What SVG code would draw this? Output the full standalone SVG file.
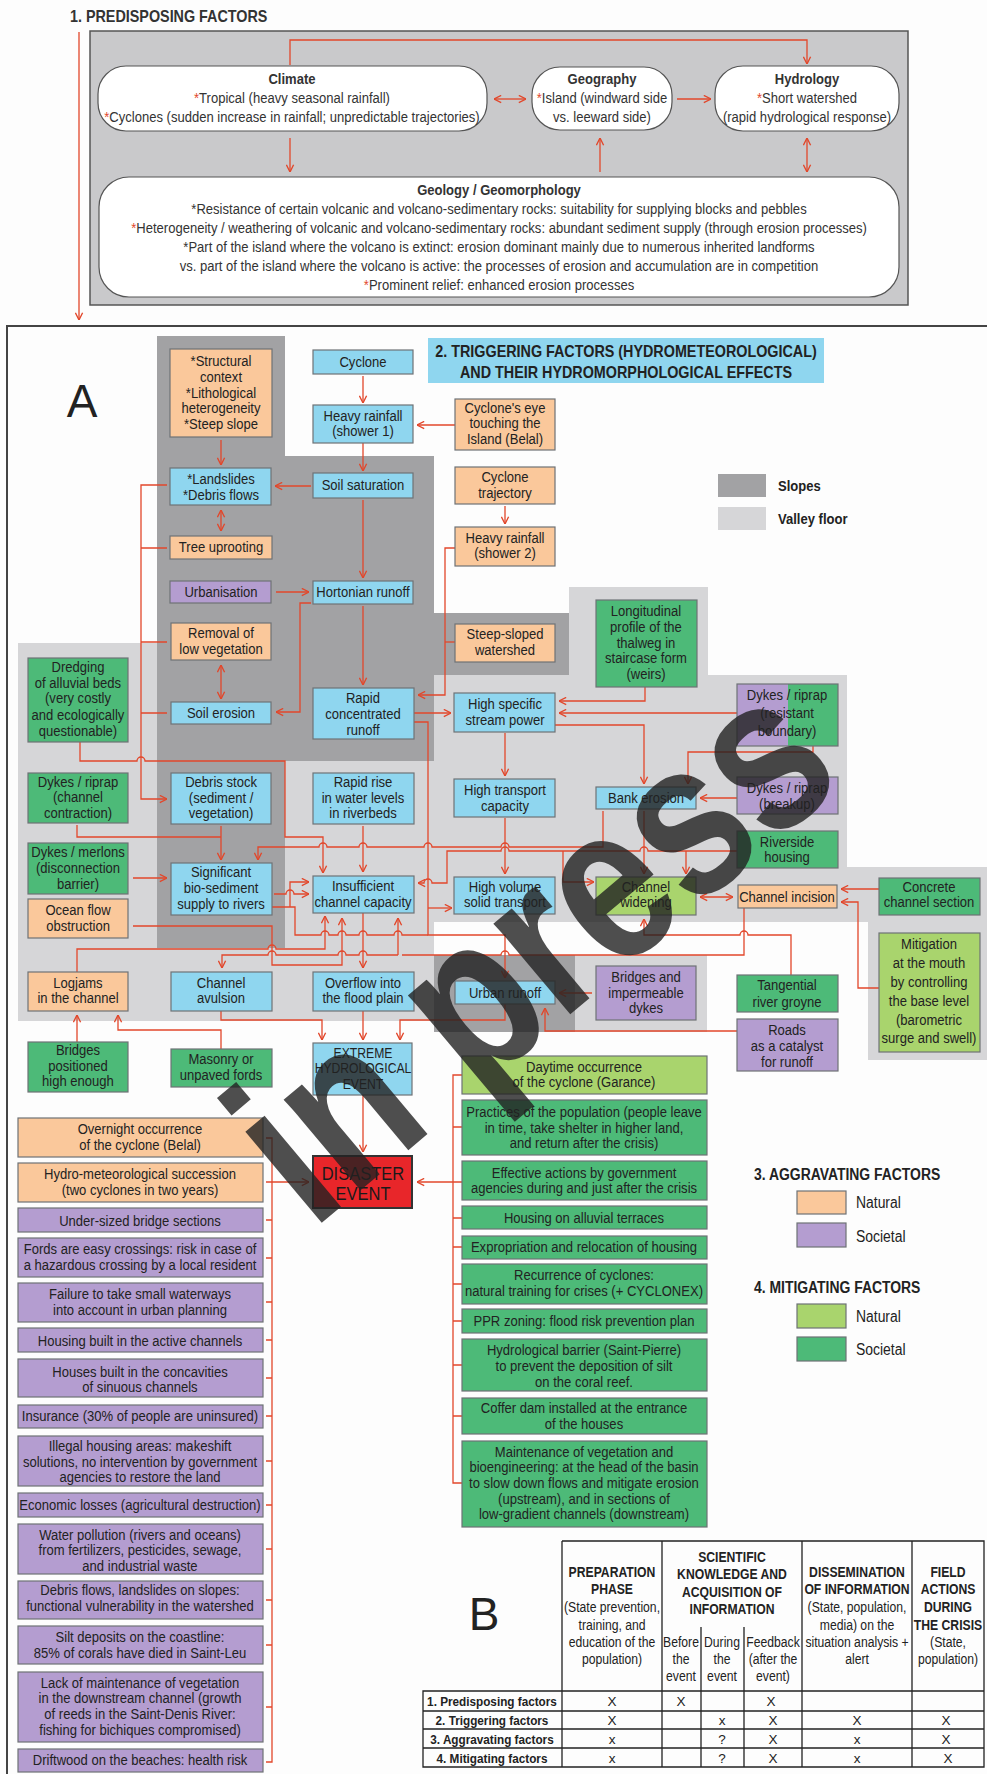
<svg xmlns="http://www.w3.org/2000/svg" width="987" height="1774" viewBox="0 0 987 1774">
<defs>
<style>
.t{font-family:"Liberation Sans Narrow","Arial Narrow","Liberation Sans",Arial,sans-serif;font-size:15px;fill:#222;text-anchor:middle;transform-box:fill-box;transform-origin:50% 50%;transform:scaleX(0.87)}
.s1{fill:#333}
.b{font-weight:bold}
.l{text-anchor:start;transform-origin:0% 50%}
.ns{transform:none}
.ast{fill:#e2472b}
.box{stroke:#6e7276;stroke-width:1.2}
.blue{fill:#8fd6ef}
.org{fill:#fac89b}
.pur{fill:#b49dd0}
.grn{fill:#4dba78}
.lgr{fill:#a9d46d}
.red{fill:#e8262a;stroke:#333;stroke-width:2}
.pill{fill:#fff;stroke:#555;stroke-width:1.2}
.c{fill:none;stroke:#e2472b;stroke-width:1.3}
.a{marker-end:url(#ah)}
.d{marker-start:url(#ah);marker-end:url(#ah)}
.slope{fill:#a2a2a4}
.valley{fill:#d6d6d8}
.tl{stroke:#222;stroke-width:1.3;fill:none}
.tt{font-size:14px}
.tr{font-size:13.5px}
</style>
<marker id="ah" viewBox="0 0 10 10" refX="9.5" refY="5" markerWidth="9" markerHeight="9" markerUnits="userSpaceOnUse" orient="auto-start-reverse"><path d="M1.5,1 L9.5,5 L1.5,9" fill="none" stroke="#e2472b" stroke-width="1.5"/></marker>
</defs>
<rect width="987" height="1774" fill="#fdfdfd"/>

<!-- SECTION 1 -->
<g id="section1">
<text class="t b l s1" x="70" y="22" style="font-size:16.5px">1. PREDISPOSING FACTORS</text>
<rect x="90" y="31" width="818" height="274" fill="#c9c9cb" stroke="#555" stroke-width="1.5"/>
</g>
<g id="n-climate">
<rect class="pill" x="98" y="66" width="389" height="65" rx="28"/>
<text class="t s1"><tspan class="b" x="292" y="84">Climate</tspan><tspan x="292" y="103"><tspan class="ast">*</tspan>Tropical (heavy seasonal rainfall)</tspan><tspan x="292" y="122"><tspan class="ast">*</tspan>Cyclones (sudden increase in rainfall; unpredictable trajectories)</tspan></text>
</g>
<g id="n-geography">
<rect class="pill" x="532" y="67" width="140" height="63" rx="28"/>
<text class="t s1"><tspan class="b" x="602" y="84">Geography</tspan><tspan x="602" y="103"><tspan class="ast">*</tspan>Island (windward side</tspan><tspan x="602" y="122">vs. leeward side)</tspan></text>
</g>
<g id="n-hydrology">
<rect class="pill" x="715" y="66" width="184" height="65" rx="28"/>
<text class="t s1"><tspan class="b" x="807" y="84">Hydrology</tspan><tspan x="807" y="103"><tspan class="ast">*</tspan>Short watershed</tspan><tspan x="807" y="122">(rapid hydrological response)</tspan></text>
</g>
<g id="n-geology">
<rect class="pill" x="99" y="177" width="800" height="120" rx="30"/>
<text class="t s1"><tspan class="b" x="499" y="195">Geology / Geomorphology</tspan><tspan x="499" y="214">*Resistance of certain volcanic and volcano-sedimentary rocks: suitability for supplying blocks and pebbles</tspan><tspan x="499" y="233"><tspan class="ast">*</tspan>Heterogeneity / weathering of volcanic and volcano-sedimentary rocks: abundant sediment supply (through erosion processes)</tspan><tspan x="499" y="252">*Part of the island where the volcano is extinct: erosion dominant mainly due to numerous inherited landforms</tspan><tspan x="499" y="271">vs. part of the island where the volcano is active: the processes of erosion and accumulation are in competition</tspan><tspan x="499" y="290"><tspan class="ast">*</tspan>Prominent relief: enhanced erosion processes</tspan></text>
</g>
<g id="connectors-1">
<path class="c a" d="M290,65 V40 H807 V64"/>
<path class="c d" d="M494,99 H526"/>
<path class="c a" d="M677,99 H711"/>
<path class="c a" d="M290,138 V172"/>
<path class="c a" d="M600,172 V138"/>
<path class="c d" d="M807,138 V172"/>
<path class="c a" d="M79,32 V320"/>
</g>

<!-- SECTION A frame and zones -->
<g id="frameA">
<rect x="7" y="326" width="1000" height="1470" fill="none" stroke="#444" stroke-width="2"/>
</g>
<g id="zones">
<rect class="valley" x="18" y="643" width="139" height="378"/>
<rect class="valley" x="157" y="761" width="277" height="260"/>
<rect class="valley" x="434" y="675" width="413" height="247"/>
<rect class="valley" x="569" y="587" width="139" height="88"/>
<polygon class="valley" points="847,867 987,867 987,1060 868,1060 868,922 847,922"/>
<rect class="valley" x="575" y="955" width="132" height="77"/>
<rect class="slope" x="157" y="336" width="128" height="120"/>
<rect class="slope" x="157" y="456" width="277" height="305"/>
<rect class="slope" x="434" y="613" width="135" height="62"/>
<rect class="slope" x="157" y="761" width="128" height="187"/>
<rect class="slope" x="434" y="955" width="141" height="77"/>
</g>
<g id="labelA"><text x="82" y="417" style="font-family:'Liberation Sans',Arial,sans-serif;font-size:46px;fill:#222;text-anchor:middle">A</text></g>
<g id="title2">
<rect x="428" y="338" width="396" height="45" fill="#8fd6ef"/>
<text class="t b" style="font-size:16.5px"><tspan x="626" y="357">2. TRIGGERING FACTORS (HYDROMETEOROLOGICAL)</tspan><tspan x="626" y="378">AND THEIR HYDROMORPHOLOGICAL EFFECTS</tspan></text>
</g>
<g id="legend-zones">
<rect class="slope" x="718" y="474" width="48" height="23"/>
<text class="t b l" x="778" y="491">Slopes</text>
<rect class="valley" x="718" y="507" width="48" height="23"/>
<text class="t b l" x="778" y="524">Valley floor</text>
</g>

<!-- CONNECTORS SECTION A -->
<g id="connectors">
<path class="c a" d="M363,376 V403"/>
<path class="c a" d="M455,425 H417"/>
<path class="c a" d="M363,443 V471"/>
<path class="c a" d="M311,486 H275"/>
<path class="c a" d="M221,440 V465"/>
<path class="c d" d="M221,510 V531"/>
<path class="c a" d="M276,592 H309"/>
<path class="c a" d="M363,500 V578"/>
<path class="c a" d="M311,603 H300 V712 H276"/>
<path class="c d" d="M221,665 V699"/>
<path class="c a" d="M363,606 V685"/>
<path class="c a" d="M167,485 H141 V799 H167"/>
<path class="c" d="M167,548 H141 M167,642 H141 M167,713 H141"/>
<path class="c a" d="M505,506 V524"/>
<path class="c a" d="M455,548 H445 V695 H418"/>
<path class="c" d="M455,642 H445"/>
<path class="c a" d="M414,713 H451"/>
<path class="c a" d="M645,687 V701 H559"/>
<path class="c a" d="M737,713 H559"/>
<path class="c a" d="M555,725 H644 V784"/>
<path class="c a" d="M505,733 V776"/>
<path class="c a" d="M813,746 V752 H688 V784"/>
<path class="c a" d="M737,798 H700"/>
<path class="c a" d="M505,818 V874"/>
<path class="c a" d="M644,811 V874"/>
<path class="c a" d="M737,851 H648 a4,4 0 0 0 -8,0 H509 a4,4 0 0 0 -8,0 H447 V883 H432 a4,4 0 0 0 -8,0 H418"/>
<path class="c a" d="M686,851 V874"/>
<path class="c a" d="M603,811 V847 H509 a4,4 0 0 0 -8,0 H432 a4,4 0 0 0 -8,0 H367 a4,4 0 0 0 -8,0 H327 a4,4 0 0 0 -8,0 H258 V860"/>
<path class="c a" d="M563,851 V882 H594"/>
<path class="c d" d="M700,897 H733"/>
<path class="c a" d="M879,889 H841"/>
<path class="c a" d="M879,988 H858 V902 H841"/>
<path class="c a" d="M791,975 V935 H748 a4,4 0 0 0 -8,0 H644 V919"/>
<path class="c a" d="M744,908 V955 H509 a4,4 0 0 0 -8,0 H402 M398,955 H367 a4,4 0 0 0 -8,0 H346 a4,4 0 0 0 -8,0 H276 a4,4 0 0 0 -8,0 H222 V968"/>
<path class="c a" d="M398,955 V918"/>
<path class="c a" d="M414,722 H428 V935 H505 V978"/>
<path class="c" d="M272,907 H295 V935 H321 a4,4 0 0 1 8,0 H338 a4,4 0 0 1 8,0 H359 a4,4 0 0 1 8,0 H394 a4,4 0 0 1 8,0 H428"/>
<path class="c a" d="M274,894 H286 a4,4 0 0 1 8,0 H309"/>
<path class="c a" d="M290,907 V882 H309"/>
<path class="c a" d="M428,908 H452"/>
<path class="c a" d="M133,878 H167"/>
<path class="c a" d="M221,826 V860"/>
<path class="c" d="M77,825 V837 H221"/>
<path class="c a" d="M80,742 V761 H137 a4,4 0 0 1 8,0 H285 V837 H323 V873"/>
<path class="c a" d="M363,826 V872"/>
<path class="c a" d="M133,926 H272 V965 H342 V918"/>
<path class="c a" d="M77,972 V949 H268 a4,4 0 0 1 8,0 H325 V916"/>
<path class="c a" d="M363,913 V968"/>
<path class="c a" d="M592,993 H559"/>
<path class="c a" d="M737,1031 H545 V1008"/>
<path class="c a" d="M505,1004 V1020 H400 V1040"/>
<path class="c a" d="M221,1011 V1020 H322 V1040"/>
<path class="c a" d="M363,1011 V1040"/>
<path class="c a" d="M77,1042 V1015"/>
<path class="c a" d="M221,1049 V1030 H118 V1015"/>
<path class="c a" d="M363,1095 V1152"/>
<path class="c" d="M266,1138 H272 V1762 H266 M266,1220 H272 M266,1258 H272 M266,1302 H272 M266,1340 H272 M266,1378 H272 M266,1416 H272 M266,1461 H272 M266,1505 H272 M266,1549 H272 M266,1600 H272 M266,1645 H272 M266,1707 H272"/>
<path class="c a" d="M266,1182 H309"/>
<path class="c" d="M462,1075 H453 V1483 H462 M453,1127 H462 M453,1182 H462 M453,1218 H462 M453,1247 H462 M453,1284 H462 M453,1321 H462 M453,1365 H462 M453,1416 H462"/>
<path class="c a" d="M453,1182 H417"/>
</g>

<!-- NODES SECTION A -->
<g id="n-structural"><rect class="box org" x="170" y="349" width="102" height="88"/><text class="t"><tspan x="221" y="366">*Structural</tspan><tspan x="221" y="382">context</tspan><tspan x="221" y="398">*Lithological</tspan><tspan x="221" y="413">heterogeneity</tspan><tspan x="221" y="429">*Steep slope</tspan></text></g>
<g id="n-cyclone"><rect class="box blue" x="313" y="350" width="100" height="24"/><text class="t" x="363" y="367">Cyclone</text></g>
<g id="n-heavy1"><rect class="box blue" x="313" y="405" width="100" height="38"/><text class="t"><tspan x="363" y="421">Heavy rainfall</tspan><tspan x="363" y="436">(shower 1)</tspan></text></g>
<g id="n-eye"><rect class="box org" x="455" y="399" width="100" height="51"/><text class="t"><tspan x="505" y="413">Cyclone's eye</tspan><tspan x="505" y="428">touching the</tspan><tspan x="505" y="444">Island (Belal)</tspan></text></g>
<g id="n-landslides"><rect class="box blue" x="170" y="468" width="101" height="37"/><text class="t"><tspan x="221" y="484">*Landslides</tspan><tspan x="221" y="500">*Debris flows</tspan></text></g>
<g id="n-soilsat"><rect class="box blue" x="313" y="473" width="100" height="25"/><text class="t" x="363" y="490">Soil saturation</text></g>
<g id="n-trajectory"><rect class="box org" x="455" y="467" width="100" height="37"/><text class="t"><tspan x="505" y="482">Cyclone</tspan><tspan x="505" y="498">trajectory</tspan></text></g>
<g id="n-tree"><rect class="box org" x="170" y="536" width="102" height="23"/><text class="t" x="221" y="552">Tree uprooting</text></g>
<g id="n-heavy2"><rect class="box org" x="455" y="527" width="100" height="39"/><text class="t"><tspan x="505" y="543">Heavy rainfall</tspan><tspan x="505" y="558">(shower 2)</tspan></text></g>
<g id="n-urbanisation"><rect class="box pur" x="170" y="581" width="101" height="22"/><text class="t" x="221" y="597">Urbanisation</text></g>
<g id="n-hortonian"><rect class="box blue" x="313" y="581" width="100" height="23"/><text class="t" x="363" y="597">Hortonian runoff</text></g>
<g id="n-removal"><rect class="box org" x="171" y="623" width="100" height="37"/><text class="t"><tspan x="221" y="638">Removal of</tspan><tspan x="221" y="654">low vegetation</tspan></text></g>
<g id="n-steep"><rect class="box org" x="455" y="624" width="100" height="38"/><text class="t"><tspan x="505" y="639">Steep-sloped</tspan><tspan x="505" y="655">watershed</tspan></text></g>
<g id="n-longitudinal"><rect class="box grn" x="596" y="600" width="101" height="87"/><text class="t"><tspan x="646" y="616">Longitudinal</tspan><tspan x="646" y="632">profile of the</tspan><tspan x="646" y="648">thalweg in</tspan><tspan x="646" y="663">staircase form</tspan><tspan x="646" y="679">(weirs)</tspan></text></g>
<g id="n-dredging"><rect class="box grn" x="28" y="658" width="100" height="84"/><text class="t"><tspan x="78" y="672">Dredging</tspan><tspan x="78" y="688">of alluvial beds</tspan><tspan x="78" y="703">(very costly</tspan><tspan x="78" y="720">and ecologically</tspan><tspan x="78" y="736">questionable)</tspan></text></g>
<g id="n-soilerosion"><rect class="box blue" x="171" y="702" width="100" height="22"/><text class="t" x="221" y="718">Soil erosion</text></g>
<g id="n-rapid"><rect class="box blue" x="313" y="688" width="101" height="51"/><text class="t"><tspan x="363" y="703">Rapid</tspan><tspan x="363" y="719">concentrated</tspan><tspan x="363" y="735">runoff</tspan></text></g>
<g id="n-highspecific"><rect class="box blue" x="454" y="693" width="101" height="39"/><text class="t"><tspan x="505" y="709">High specific</tspan><tspan x="505" y="725">stream power</tspan></text></g>
<g id="n-dykes-resistant"><rect x="737" y="684" width="51" height="62" fill="#b49dd0"/><rect x="788" y="684" width="50" height="62" fill="#4dba78"/><rect class="box" x="737" y="684" width="101" height="62" fill="none"/><text class="t"><tspan x="787" y="700">Dykes / riprap</tspan><tspan x="787" y="718">(resistant</tspan><tspan x="787" y="736">boundary)</tspan></text></g>
<g id="n-dykes-contraction"><rect class="box grn" x="28" y="773" width="100" height="50"/><text class="t"><tspan x="78" y="787">Dykes / riprap</tspan><tspan x="78" y="802">(channel</tspan><tspan x="78" y="818">contraction)</tspan></text></g>
<g id="n-debris"><rect class="box blue" x="171" y="773" width="100" height="51"/><text class="t"><tspan x="221" y="787">Debris stock</tspan><tspan x="221" y="803">(sediment /</tspan><tspan x="221" y="818">vegetation)</tspan></text></g>
<g id="n-rapidrise"><rect class="box blue" x="313" y="773" width="101" height="51"/><text class="t"><tspan x="363" y="787">Rapid rise</tspan><tspan x="363" y="803">in water levels</tspan><tspan x="363" y="818">in riverbeds</tspan></text></g>
<g id="n-hightransport"><rect class="box blue" x="454" y="779" width="101" height="38"/><text class="t"><tspan x="505" y="795">High transport</tspan><tspan x="505" y="811">capacity</tspan></text></g>
<g id="n-bank"><rect class="box blue" x="596" y="787" width="100" height="22"/><text class="t" x="646" y="803">Bank erosion</text></g>
<g id="n-dykes-breakup"><rect class="box pur" x="737" y="777" width="101" height="37"/><text class="t"><tspan x="787" y="793">Dykes / riprap</tspan><tspan x="787" y="809">(breakup)</tspan></text></g>
<g id="n-riverside"><rect class="box grn" x="737" y="831" width="101" height="37"/><text class="t"><tspan x="787" y="847">Riverside</tspan><tspan x="787" y="862">housing</tspan></text></g>
<g id="n-merlons"><rect class="box grn" x="28" y="843" width="100" height="51"/><text class="t"><tspan x="78" y="857">Dykes / merlons</tspan><tspan x="78" y="873">(disconnection</tspan><tspan x="78" y="889">barrier)</tspan></text></g>
<g id="n-significant"><rect class="box blue" x="171" y="863" width="101" height="52"/><text class="t"><tspan x="221" y="877">Significant</tspan><tspan x="221" y="893">bio-sediment</tspan><tspan x="221" y="909">supply to rivers</tspan></text></g>
<g id="n-insufficient"><rect class="box blue" x="313" y="876" width="101" height="37"/><text class="t"><tspan x="363" y="891">Insufficient</tspan><tspan x="363" y="907">channel capacity</tspan></text></g>
<g id="n-highvolume"><rect class="box blue" x="454" y="877" width="101" height="37"/><text class="t"><tspan x="505" y="892">High volume</tspan><tspan x="505" y="907">solid transport</tspan></text></g>
<g id="n-widening"><rect class="box lgr" x="596" y="877" width="100" height="38"/><text class="t"><tspan x="646" y="892">Channel</tspan><tspan x="646" y="907">widening</tspan></text></g>
<g id="n-incision"><rect class="box org" x="738" y="885" width="99" height="23"/><text class="t" x="787" y="902">Channel incision</text></g>
<g id="n-concrete"><rect class="box grn" x="879" y="878" width="101" height="37"/><text class="t"><tspan x="929" y="892">Concrete</tspan><tspan x="929" y="907">channel section</tspan></text></g>
<g id="n-ocean"><rect class="box org" x="28" y="899" width="100" height="39"/><text class="t"><tspan x="78" y="915">Ocean flow</tspan><tspan x="78" y="931">obstruction</tspan></text></g>
<g id="n-mitigation-mouth"><rect class="box lgr" x="879" y="933" width="101" height="119"/><text class="t"><tspan x="929" y="949">Mitigation</tspan><tspan x="929" y="968">at the mouth</tspan><tspan x="929" y="987">by controlling</tspan><tspan x="929" y="1006">the base level</tspan><tspan x="929" y="1025">(barometric</tspan><tspan x="929" y="1043">surge and swell)</tspan></text></g>
<g id="n-bridges-dykes"><rect class="box pur" x="596" y="966" width="100" height="54"/><text class="t"><tspan x="646" y="982">Bridges and</tspan><tspan x="646" y="998">impermeable</tspan><tspan x="646" y="1013">dykes</tspan></text></g>
<g id="n-logjams"><rect class="box org" x="28" y="972" width="100" height="39"/><text class="t"><tspan x="78" y="988">Logjams</tspan><tspan x="78" y="1003">in the channel</tspan></text></g>
<g id="n-avulsion"><rect class="box blue" x="171" y="972" width="101" height="39"/><text class="t"><tspan x="221" y="988">Channel</tspan><tspan x="221" y="1003">avulsion</tspan></text></g>
<g id="n-overflow"><rect class="box blue" x="313" y="972" width="101" height="39"/><text class="t"><tspan x="363" y="988">Overflow into</tspan><tspan x="363" y="1003">the flood plain</tspan></text></g>
<g id="n-urbanrunoff"><rect class="box blue" x="455" y="981" width="100" height="23"/><text class="t" x="505" y="998">Urban runoff</text></g>
<g id="n-groyne"><rect class="box grn" x="737" y="975" width="101" height="37"/><text class="t"><tspan x="787" y="990">Tangential</tspan><tspan x="787" y="1007">river groyne</tspan></text></g>
<g id="n-roads"><rect class="box pur" x="737" y="1019" width="101" height="52"/><text class="t"><tspan x="787" y="1035">Roads</tspan><tspan x="787" y="1051">as a catalyst</tspan><tspan x="787" y="1067">for runoff</tspan></text></g>
<g id="n-bridges-high"><rect class="box grn" x="28" y="1042" width="100" height="50"/><text class="t"><tspan x="78" y="1055">Bridges</tspan><tspan x="78" y="1071">positioned</tspan><tspan x="78" y="1086">high enough</tspan></text></g>
<g id="n-masonry"><rect class="box grn" x="171" y="1049" width="101" height="38"/><text class="t"><tspan x="221" y="1064">Masonry or</tspan><tspan x="221" y="1080">unpaved fords</tspan></text></g>
<g id="n-extreme"><rect class="box blue" x="313" y="1043" width="99" height="52"/><text class="t" style="font-size:14px"><tspan x="363" y="1058">EXTREME</tspan><tspan x="363" y="1073">HYDROLOGICAL</tspan><tspan x="363" y="1089">EVENT</tspan></text></g>
<g id="n-disaster"><rect class="red" x="313" y="1156" width="99" height="52"/><text class="t" style="font-size:19px;fill:#1a1a1a"><tspan x="363" y="1180">DISASTER</tspan><tspan x="363" y="1200">EVENT</tspan></text></g>

<!-- MITIGATING LIST -->
<g id="n-daytime"><rect class="box lgr" x="462" y="1056" width="245" height="38"/><text class="t"><tspan x="584" y="1072">Daytime occurrence</tspan><tspan x="584" y="1087">of the cyclone (Garance)</tspan></text></g>
<g id="n-practices"><rect class="box grn" x="462" y="1100" width="245" height="55"/><text class="t"><tspan x="584" y="1117">Practices of the population (people leave</tspan><tspan x="584" y="1133">in time, take shelter in higher land,</tspan><tspan x="584" y="1148">and return after the crisis)</tspan></text></g>
<g id="n-effective"><rect class="box grn" x="462" y="1161" width="245" height="39"/><text class="t"><tspan x="584" y="1178">Effective actions by government</tspan><tspan x="584" y="1193">agencies during and just after the crisis</tspan></text></g>
<g id="n-alluvial"><rect class="box grn" x="462" y="1206" width="245" height="23"/><text class="t" x="584" y="1223">Housing on alluvial terraces</text></g>
<g id="n-expropriation"><rect class="box grn" x="462" y="1236" width="245" height="23"/><text class="t" x="584" y="1252">Expropriation and relocation of housing</text></g>
<g id="n-recurrence"><rect class="box grn" x="462" y="1264" width="245" height="40"/><text class="t"><tspan x="584" y="1280">Recurrence of cyclones:</tspan><tspan x="584" y="1296">natural training for crises (+ CYCLONEX)</tspan></text></g>
<g id="n-ppr"><rect class="box grn" x="462" y="1309" width="245" height="24"/><text class="t" x="584" y="1326">PPR zoning: flood risk prevention plan</text></g>
<g id="n-barrier"><rect class="box grn" x="462" y="1339" width="245" height="52"/><text class="t"><tspan x="584" y="1355">Hydrological barrier (Saint-Pierre)</tspan><tspan x="584" y="1371">to prevent the deposition of silt</tspan><tspan x="584" y="1387">on the coral reef.</tspan></text></g>
<g id="n-coffer"><rect class="box grn" x="462" y="1398" width="245" height="36"/><text class="t"><tspan x="584" y="1413">Coffer dam installed at the entrance</tspan><tspan x="584" y="1429">of the houses</tspan></text></g>
<g id="n-maintenance"><rect class="box grn" x="462" y="1441" width="245" height="86"/><text class="t"><tspan x="584" y="1457">Maintenance of vegetation and</tspan><tspan x="584" y="1472">bioengineering: at the head of the basin</tspan><tspan x="584" y="1488">to slow down flows and mitigate erosion</tspan><tspan x="584" y="1504">(upstream), and in sections of</tspan><tspan x="584" y="1519">low-gradient channels (downstream)</tspan></text></g>

<!-- AGGRAVATING LIST -->
<g id="n-overnight"><rect class="box org" x="18" y="1118" width="245" height="39"/><text class="t"><tspan x="140" y="1134">Overnight occurrence</tspan><tspan x="140" y="1150">of the cyclone (Belal)</tspan></text></g>
<g id="n-succession"><rect class="box org" x="18" y="1163" width="245" height="39"/><text class="t"><tspan x="140" y="1179">Hydro-meteorological succession</tspan><tspan x="140" y="1195">(two cyclones in two years)</tspan></text></g>
<g id="n-undersized"><rect class="box pur" x="18" y="1208" width="245" height="24"/><text class="t" x="140" y="1226">Under-sized bridge sections</text></g>
<g id="n-fords"><rect class="box pur" x="18" y="1238" width="245" height="39"/><text class="t"><tspan x="140" y="1254">Fords are easy crossings: risk in case of</tspan><tspan x="140" y="1270">a hazardous crossing by a local resident</tspan></text></g>
<g id="n-failure"><rect class="box pur" x="18" y="1283" width="245" height="39"/><text class="t"><tspan x="140" y="1299">Failure to take small waterways</tspan><tspan x="140" y="1315">into account in urban planning</tspan></text></g>
<g id="n-housing-active"><rect class="box pur" x="18" y="1328" width="245" height="24"/><text class="t" x="140" y="1346">Housing built in the active channels</text></g>
<g id="n-concavities"><rect class="box pur" x="18" y="1359" width="245" height="38"/><text class="t"><tspan x="140" y="1377">Houses built in the concavities</tspan><tspan x="140" y="1392">of sinuous channels</tspan></text></g>
<g id="n-insurance"><rect class="box pur" x="18" y="1405" width="245" height="23"/><text class="t" x="140" y="1421">Insurance (30% of people are uninsured)</text></g>
<g id="n-illegal"><rect class="box pur" x="18" y="1436" width="245" height="50"/><text class="t"><tspan x="140" y="1451">Illegal housing areas: makeshift</tspan><tspan x="140" y="1467">solutions, no intervention by government</tspan><tspan x="140" y="1482">agencies to restore the land</tspan></text></g>
<g id="n-economic"><rect class="box pur" x="18" y="1493" width="245" height="24"/><text class="t" x="140" y="1510">Economic losses (agricultural destruction)</text></g>
<g id="n-pollution"><rect class="box pur" x="18" y="1524" width="245" height="50"/><text class="t"><tspan x="140" y="1540">Water pollution (rivers and oceans)</tspan><tspan x="140" y="1555">from fertilizers, pesticides, sewage,</tspan><tspan x="140" y="1571">and industrial waste</tspan></text></g>
<g id="n-debrisflows"><rect class="box pur" x="18" y="1581" width="245" height="38"/><text class="t"><tspan x="140" y="1595">Debris flows, landslides on slopes:</tspan><tspan x="140" y="1611">functional vulnerability in the watershed</tspan></text></g>
<g id="n-silt"><rect class="box pur" x="18" y="1626" width="245" height="38"/><text class="t"><tspan x="140" y="1642">Silt deposits on the coastline:</tspan><tspan x="140" y="1658">85% of corals have died in Saint-Leu</tspan></text></g>
<g id="n-lack"><rect class="box pur" x="18" y="1672" width="245" height="70"/><text class="t"><tspan x="140" y="1688">Lack of maintenance of vegetation</tspan><tspan x="140" y="1703">in the downstream channel (growth</tspan><tspan x="140" y="1719">of reeds in the Saint-Denis River:</tspan><tspan x="140" y="1735">fishing for bichiques compromised)</tspan></text></g>
<g id="n-driftwood"><rect class="box pur" x="18" y="1749" width="245" height="23"/><text class="t" x="140" y="1765">Driftwood on the beaches: health risk</text></g>

<!-- LEGEND 3/4 -->
<g id="legend-factors">
<text class="t b l" x="754" y="1180" style="font-size:16px">3. AGGRAVATING FACTORS</text>
<rect class="box org" x="797" y="1191" width="49" height="23"/><text class="t l" x="856" y="1208" style="font-size:16px">Natural</text>
<rect class="box pur" x="797" y="1223" width="49" height="24"/><text class="t l" x="856" y="1242" style="font-size:16px">Societal</text>
<text class="t b l" x="754" y="1293" style="font-size:16px">4. MITIGATING FACTORS</text>
<rect class="box lgr" x="797" y="1304" width="49" height="24"/><text class="t l" x="856" y="1322" style="font-size:16px">Natural</text>
<rect class="box grn" x="797" y="1337" width="49" height="24"/><text class="t l" x="856" y="1355" style="font-size:16px">Societal</text>
</g>

<!-- TABLE B -->
<g id="tableB">
<text x="484" y="1630" style="font-family:'Liberation Sans',Arial,sans-serif;font-size:46px;fill:#222;text-anchor:middle">B</text>
<path class="tl" d="M562,1541 H984 V1767 H423 V1691 H984 M423,1711 H984 M423,1729 H984 M423,1748 H984 M562,1541 V1767 M662,1541 V1767 M802,1541 V1767 M912,1541 V1767 M701,1627 V1767 M744,1627 V1767"/>
<text class="t tt"><tspan class="b" x="612" y="1577">PREPARATION</tspan><tspan class="b" x="612" y="1594">PHASE</tspan><tspan x="612" y="1612">(State prevention,</tspan><tspan x="612" y="1630">training, and</tspan><tspan x="612" y="1647">education of the</tspan><tspan x="612" y="1664">population)</tspan></text>
<text class="t tt b"><tspan x="732" y="1562">SCIENTIFIC</tspan><tspan x="732" y="1579">KNOWLEDGE AND</tspan><tspan x="732" y="1597">ACQUISITION OF</tspan><tspan x="732" y="1614">INFORMATION</tspan></text>
<text class="t tt"><tspan x="681" y="1647">Before</tspan><tspan x="681" y="1664">the</tspan><tspan x="681" y="1681">event</tspan></text>
<text class="t tt"><tspan x="722" y="1647">During</tspan><tspan x="722" y="1664">the</tspan><tspan x="722" y="1681">event</tspan></text>
<text class="t tt"><tspan x="773" y="1647">Feedback</tspan><tspan x="773" y="1664">(after the</tspan><tspan x="773" y="1681">event)</tspan></text>
<text class="t tt"><tspan class="b" x="857" y="1577">DISSEMINATION</tspan><tspan class="b" x="857" y="1594">OF INFORMATION</tspan><tspan x="857" y="1612">(State, population,</tspan><tspan x="857" y="1630">media) on the</tspan><tspan x="857" y="1647">situation analysis +</tspan><tspan x="857" y="1664">alert</tspan></text>
<text class="t tt"><tspan class="b" x="948" y="1577">FIELD</tspan><tspan class="b" x="948" y="1594">ACTIONS</tspan><tspan class="b" x="948" y="1612">DURING</tspan><tspan class="b" x="948" y="1630">THE CRISIS</tspan><tspan x="948" y="1647">(State,</tspan><tspan x="948" y="1664">population)</tspan></text>
<text class="t tr b"><tspan x="492" y="1706">1. Predisposing factors</tspan><tspan x="492" y="1725">2. Triggering factors</tspan><tspan x="492" y="1744">3. Aggravating factors</tspan><tspan x="492" y="1763">4. Mitigating factors</tspan></text>
<text class="t tr ns"><tspan x="612" y="1706">X</tspan><tspan x="681" y="1706">X</tspan><tspan x="773" y="1706">X</tspan>
<tspan x="612" y="1725">X</tspan><tspan x="722" y="1725">x</tspan><tspan x="773" y="1725">X</tspan><tspan x="857" y="1725">X</tspan><tspan x="948" y="1725">X</tspan>
<tspan x="612" y="1744">x</tspan><tspan x="722" y="1744">?</tspan><tspan x="773" y="1744">X</tspan><tspan x="857" y="1744">x</tspan><tspan x="948" y="1744">X</tspan>
<tspan x="612" y="1763">x</tspan><tspan x="722" y="1763">?</tspan><tspan x="773" y="1763">X</tspan><tspan x="857" y="1763">x</tspan><tspan x="948" y="1763">X</tspan></text>
</g>

<!-- WATERMARK -->
<g id="watermark">
<text x="0" y="0" transform="translate(312,1231) rotate(-40)" textLength="700" lengthAdjust="spacingAndGlyphs" style="font-family:'Liberation Sans Narrow','Liberation Sans',Arial,sans-serif;font-weight:bold;font-size:225px;fill:#222;fill-opacity:0.8">in press</text>
</g>
</svg>
